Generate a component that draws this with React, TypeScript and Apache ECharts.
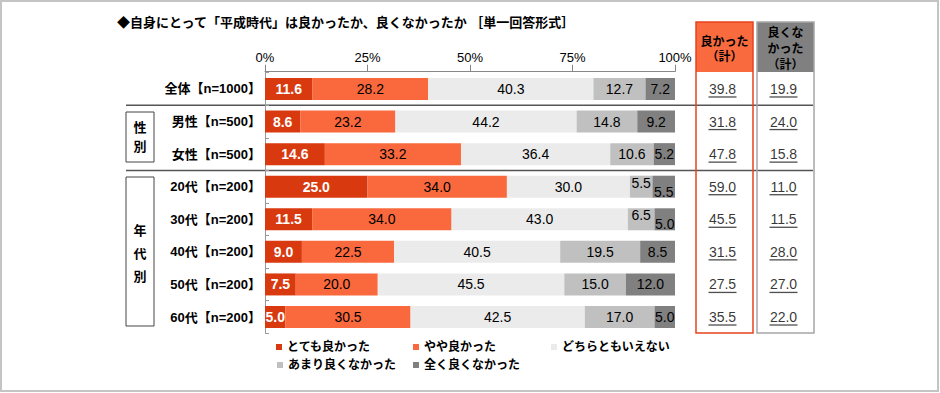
import React, { useEffect, useRef } from "react";
import * as echarts from "echarts";

const categories = [
  "全体【n=1000】",
  "男性【n=500】",
  "女性【n=500】",
  "20代【n=200】",
  "30代【n=200】",
  "40代【n=200】",
  "50代【n=200】",
  "60代【n=200】",
];
const seriesNames = ["とても良かった", "やや良かった", "どちらともいえない", "あまり良くなかった", "全く良くなかった"];
const veryGood = [11.6, 8.6, 14.6, 25.0, 11.5, 9.0, 7.5, 5.0];
const somewhatGood = [28.2, 23.2, 33.2, 34.0, 34.0, 22.5, 20.0, 30.5];
const neither = [40.3, 44.2, 36.4, 30.0, 43.0, 40.5, 45.5, 42.5];
const notVery = [12.7, 14.8, 10.6, 5.5, 6.5, 19.5, 15.0, 17.0];
const notAtAll = [7.2, 9.2, 5.2, 5.5, 5.0, 8.5, 12.0, 5.0];
const goodTotal = [39.8, 31.8, 47.8, 59.0, 45.5, 31.5, 27.5, 35.5];
const badTotal = [19.9, 24.0, 15.8, 11.0, 11.5, 28.0, 27.0, 22.0];

const FONT = "'Liberation Sans', 'Noto Sans CJK JP', sans-serif";
const colors = ["#d9390f", "#f9693d", "#ebebeb", "#c0c0c0", "#808080"];

// label nudges for tiny segments (series index -> category index -> offset)
const labelNudge: Record<number, Record<number, number[]>> = {
  3: { 3: [0, -4], 4: [0, -4] },
  4: { 3: [0, 5], 4: [0, 5] },
};

const GRID_TOP = 72.7;
const GRID_H = 260.6;
const BAND = GRID_H / categories.length;

export default function App() {
  const ref = useRef<HTMLDivElement>(null);
  useEffect(() => {
    if (!ref.current) return;
    const chart = echarts.init(ref.current, null, { renderer: "svg" });
    const values = [veryGood, somewhatGood, neither, notVery, notAtAll];
    const barSeries = values.map((arr, si) => ({
      name: seriesNames[si],
      type: "bar",
      stack: "total",
      xAxisIndex: 0,
      yAxisIndex: 0,
      barWidth: 22,
      itemStyle: { color: colors[si] },
      label: {
        show: true,
        position: "inside",
        fontFamily: FONT,
        fontSize: 14,
        fontWeight: si === 0 ? "bold" : "normal",
        color: si === 0 ? "#ffffff" : "#000000",
        formatter: (p: any) => Number(p.value).toFixed(1),
      },
      data: arr.map((v, ci) => {
        const n = labelNudge[si] && labelNudge[si][ci];
        return n ? { value: v, label: { offset: n } } : { value: v };
      }),
    }));

    const totalSeries = (arr: number[], gi: number) => [
      {
        type: "scatter",
        xAxisIndex: gi,
        yAxisIndex: gi,
        symbol: "rect",
        symbolSize: [1, 1],
        itemStyle: { color: "transparent" },
        silent: true,
        label: {
          show: true,
          position: "inside",
          fontFamily: FONT,
          fontSize: 14,
          color: "#000",
          formatter: (p: any) => Number(p.value[2]).toFixed(1),
        },
        data: arr.map((v, ci) => [0.5, ci, v]),
      },
      {
        type: "scatter",
        xAxisIndex: gi,
        yAxisIndex: gi,
        symbol: "rect",
        symbolSize: [28, 1.3],
        symbolOffset: [0, 8],
        itemStyle: { color: "#222" },
        silent: true,
        data: arr.map((v, ci) => [0.5, ci, v]),
      },
    ];

    const legendPos = [
      [276, 341],
      [413, 341],
      [551, 341],
      [277, 359],
      [413, 359],
    ];

    const graphic: any[] = [
      {
        type: "rect",
        shape: { x: 1, y: 1, width: 937, height: 390 },
        style: { fill: "none", stroke: "#c4c4c4", lineWidth: 2 },
      },
      {
        type: "text",
        x: 117,
        y: 22,
        style: {
          text: "◆自身にとって「平成時代」は良かったか、良くなかったか ［単一回答形式］",
          font: `bold 13px ${FONT}`,
          fill: "#000",
          verticalAlign: "middle",
        },
      },
      // separators
      {
        type: "line",
        shape: { x1: 126, y1: GRID_TOP + BAND, x2: 813, y2: GRID_TOP + BAND },
        style: { stroke: "#555", lineWidth: 1.5 },
      },
      {
        type: "line",
        shape: { x1: 126, y1: GRID_TOP + BAND * 3, x2: 813, y2: GRID_TOP + BAND * 3 },
        style: { stroke: "#555", lineWidth: 1.5 },
      },
      // group boxes
      {
        type: "rect",
        shape: { x: 126, y: 112, width: 28, height: 50 },
        style: { fill: "none", stroke: "#444", lineWidth: 1 },
      },
      {
        type: "text",
        x: 140,
        y: 137,
        style: { text: "性\n別", font: `bold 13px ${FONT}`, fill: "#000", align: "center", verticalAlign: "middle", lineHeight: 19 },
      },
      {
        type: "rect",
        shape: { x: 126, y: 177, width: 28, height: 149 },
        style: { fill: "none", stroke: "#444", lineWidth: 1 },
      },
      {
        type: "text",
        x: 140,
        y: 253,
        style: { text: "年\n代\n別", font: `bold 13px ${FONT}`, fill: "#000", align: "center", verticalAlign: "middle", lineHeight: 23 },
      },
      // right columns
      {
        type: "rect",
        shape: { x: 696, y: 22, width: 57, height: 50 },
        style: { fill: "#f96b3f" },
      },
      {
        type: "rect",
        shape: { x: 696, y: 22, width: 57, height: 311 },
        style: { fill: "none", stroke: "#e8431c", lineWidth: 1.5 },
      },
      {
        type: "text",
        x: 724.5,
        y: 49,
        style: { text: "良かった\n（計）", font: `bold 12px ${FONT}`, fill: "#000", align: "center", verticalAlign: "middle", lineHeight: 15 },
      },
      {
        type: "rect",
        shape: { x: 757, y: 22, width: 57, height: 50 },
        style: { fill: "#808080" },
      },
      {
        type: "rect",
        shape: { x: 757, y: 22, width: 57, height: 311 },
        style: { fill: "none", stroke: "#a6a6a6", lineWidth: 1.5 },
      },
      {
        type: "text",
        x: 785.5,
        y: 49,
        style: { text: "良くな\nかった\n（計）", font: `bold 12px ${FONT}`, fill: "#000", align: "center", verticalAlign: "middle", lineHeight: 16 },
      },
    ];

    chart.setOption({
      animation: false,
      graphic,
      legend: seriesNames.map((n, i) => ({
        data: [{ name: n, icon: "rect" }],
        left: legendPos[i][0],
        top: legendPos[i][1],
        padding: 0,
        itemWidth: 6,
        itemHeight: 6,
        selectedMode: false,
        textStyle: { fontFamily: FONT, fontSize: 12, fontWeight: "bold", color: "#000" },
      })),
      grid: [
        { left: 265, width: 410, top: GRID_TOP, height: GRID_H },
        { left: 694, width: 57, top: GRID_TOP, height: GRID_H },
        { left: 755, width: 57, top: GRID_TOP, height: GRID_H },
      ],
      xAxis: [
        {
          gridIndex: 0,
          type: "value",
          position: "top",
          offset: 1,
          min: 0,
          max: 100,
          interval: 25,
          axisLine: { show: true, lineStyle: { color: "#888", width: 1 } },
          axisTick: { show: true, length: 7, lineStyle: { color: "#888" } },
          splitLine: { show: false },
          axisLabel: { formatter: "{value}%", fontFamily: FONT, fontSize: 13, color: "#000", margin: 8 },
        },
        { gridIndex: 1, type: "value", min: 0, max: 1, show: false },
        { gridIndex: 2, type: "value", min: 0, max: 1, show: false },
      ],
      yAxis: [
        {
          gridIndex: 0,
          type: "category",
          inverse: true,
          data: categories,
          axisLine: { show: true, lineStyle: { color: "#999" } },
          axisTick: { show: true, inside: true, length: 4, lineStyle: { color: "#999" } },
          axisLabel: { fontFamily: FONT, fontSize: 13, fontWeight: "bold", color: "#000", margin: 4 },
        },
        { gridIndex: 1, type: "category", inverse: true, data: categories, show: false },
        { gridIndex: 2, type: "category", inverse: true, data: categories, show: false },
      ],
      series: [...barSeries, ...totalSeries(goodTotal, 1), ...totalSeries(badTotal, 2)],
    });
    return () => chart.dispose();
  }, []);
  return (
    <div
      ref={ref}
      style={{ position: "fixed", left: 0, top: 0, width: 940, height: 393, background: "#fff" }}
    />
  );
}
